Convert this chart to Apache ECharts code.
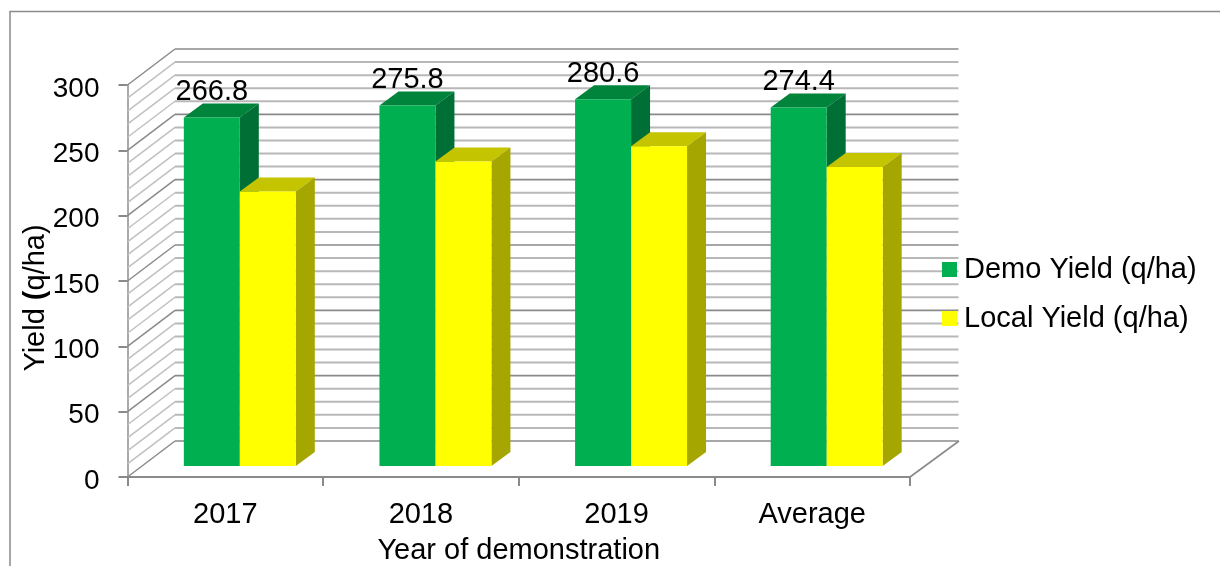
<!DOCTYPE html>
<html><head><meta charset="utf-8">
<style>html,body{margin:0;padding:0;background:#fff}#c{width:1220px;height:566px}</style>
<script src="https://cdn.jsdelivr.net/npm/echarts@6/dist/echarts.min.js"></script>
</head><body><div id="c"></div>
<script>
const categories = ['2017', '2018', '2019', 'Average'];
const demoYield = [266.8, 275.8, 280.6, 274.4];
const localYield = [210, 233, 244.7, 228.8];
const gridValues = [0,10,20,30,40,50,60,70,80,90,100,110,120,130,140,150,160,170,180,190,200,210,220,230,240,250,260,270,280,290,300];

const FONT = '"Liberation Sans", Arial, sans-serif';
const FS = 29, WALL_DX = 47.5, WALL_DY = -36;
const BAR_RATIO = 0.2862, BAR_SHIFT_X = 14.5, BAR_SHIFT_Y = -11, SIDE_DX = 19, SIDE_DY = -14;

function wallItem(params, api) {
  const v = api.value(0), cs = params.coordSys;
  const y = api.coord([0, v])[1];
  const major = v % 50 === 0;
  const back = { stroke: major ? '#8a8a8a' : '#b8b8b8', lineWidth: major ? 1.6 : 2, fill: null };
  const diag = { stroke: major ? '#8a8a8a' : '#c0c0c0', lineWidth: 1.5, fill: null };
  const x0 = cs.x, xb = cs.x + WALL_DX, xe = cs.x + cs.width + WALL_DX + 1;
  return { type: 'group', children: [
    { type: 'line', shape: { x1: x0, y1: y, x2: xb, y2: y + WALL_DY }, style: diag },
    { type: 'line', shape: { x1: xb, y1: y + WALL_DY, x2: xe, y2: y + WALL_DY }, style: back }
  ]};
}
function barItem(dir, front, top, side, showLabel) {
  return function (params, api) {
    const i = api.value(0), v = api.value(1);
    const p = api.coord([i, v]), p0 = api.coord([i, 0]);
    const w = api.size([1, 0])[0] * BAR_RATIO;
    const cx = p[0] + BAR_SHIFT_X;
    const xl = dir < 0 ? cx - w : cx, xr = xl + w;
    const yb = p0[1] + BAR_SHIFT_Y, yt = p[1] + BAR_SHIFT_Y;
    const children = [
      { type: 'polygon', shape: { points: [[xl, yt], [xr, yt], [xr + SIDE_DX, yt + SIDE_DY], [xl + SIDE_DX, yt + SIDE_DY]] }, style: { fill: top } },
      { type: 'polygon', shape: { points: [[xr, yt], [xr + SIDE_DX, yt + SIDE_DY], [xr + SIDE_DX, yb + SIDE_DY], [xr, yb]] }, style: { fill: side } },
      { type: 'rect', shape: { x: xl, y: yt, width: w, height: yb - yt }, style: { fill: front } }
    ];
    if (showLabel) children.push({ type: 'text', z2: 50, style: {
      text: v.toFixed(1), x: (xl + xr) / 2, y: yt - 25.5, align: 'center', verticalAlign: 'middle',
      font: FS + 'px ' + FONT, fill: '#000' } });
    return { type: 'group', children };
  };
}
const chart = echarts.init(document.getElementById('c'), null, { renderer: 'canvas' });
chart.setOption({
  animation: false,
  backgroundColor: '#fff',
  textStyle: { fontFamily: FONT },
  grid: { left: 127.5, top: 85, width: 782.5, height: 392, containLabel: false, outerBoundsMode: 'none' },
  xAxis: {
    type: 'category', data: categories,
    name: 'Year of demonstration', nameLocation: 'middle', nameGap: 59, nameMoveOverlap: false,
    nameTextStyle: { fontSize: FS, color: '#000', fontFamily: FONT },
    axisLine: { show: true, lineStyle: { color: '#8a8a8a', width: 2 } },
    axisTick: { show: true, length: 9, lineStyle: { color: '#8a8a8a', width: 2 } },
    axisLabel: { fontSize: FS, color: '#000', margin: 23, fontFamily: FONT },
    splitLine: { show: false }
  },
  yAxis: {
    type: 'value', min: 0, max: 300, interval: 50,
    name: '{a|Yield }{b|(}{a|q/ha)}', nameLocation: 'middle', nameGap: 77, nameMoveOverlap: false,
    nameTextStyle: { fontFamily: FONT, padding: [0, 0, 0, -34],
      rich: { a: { fontSize: FS, color: '#000', fontFamily: FONT }, b: { fontSize: FS, color: '#000', fontWeight: 700, fontFamily: FONT } } },
    axisLine: { show: true, lineStyle: { color: '#aaaaaa', width: 2 } },
    axisTick: { show: true, length: 9, lineStyle: { color: '#8a8a8a', width: 2 } },
    axisLabel: { color: '#000', margin: 28, fontFamily: FONT, formatter: '{v|{value}}',
      rich: { v: { fontSize: 28, color: '#000', fontFamily: FONT, padding: [8, 0, 0, 0] } } },
    splitLine: { show: false }
  },
  legend: {
    orient: 'vertical', left: 942, top: 255, padding: 0, itemWidth: 15, itemHeight: 15, itemGap: 20,
    icon: 'rect', selectedMode: false,
    textStyle: { fontSize: FS, color: '#000', fontFamily: FONT, padding: [0, 0, 0, 2] },
    data: ['Demo Yield (q/ha)', 'Local Yield (q/ha)']
  },
  graphic: [
    { type: 'polyline', silent: true, z: -1, shape: { points: [[10, 566], [10, 11.5], [1220, 11.5]] }, style: { stroke: '#8a8a8a', lineWidth: 1.5, fill: null } },
    { type: 'line', silent: true, z: -1, shape: { x1: 910, y1: 477, x2: 959, y2: 441 }, style: { stroke: '#8a8a8a', lineWidth: 1.6 } }
  ],
  series: [
    { type: 'custom', name: 'walls', z: 1, clip: false, silent: true, coordinateSystem: 'cartesian2d',
      encode: { y: 0 }, data: gridValues.map(v => [v]), renderItem: wallItem },
    { type: 'custom', name: 'Demo Yield (q/ha)', z: 3, clip: false, itemStyle: { color: '#00B050' },
      encode: { x: 0, y: 1 }, data: demoYield.map((v, i) => [i, v]),
      renderItem: barItem(-1, '#00B050', '#00843C', '#006F35', true) },
    { type: 'custom', name: 'Local Yield (q/ha)', z: 4, clip: false, itemStyle: { color: '#FFFF00' },
      encode: { x: 0, y: 1 }, data: localYield.map((v, i) => [i, v]),
      renderItem: barItem(1, '#FFFF00', '#C4C400', '#A6A600', false) }
  ]
});
</script></body></html>
